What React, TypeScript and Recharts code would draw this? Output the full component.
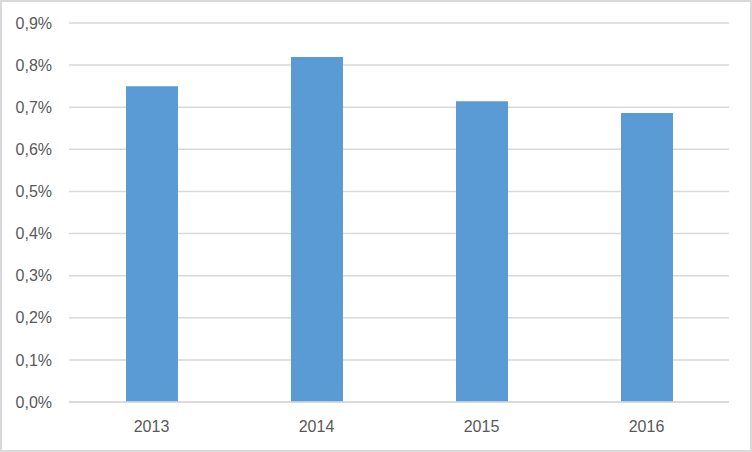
import React from 'react';
import { BarChart, Bar, XAxis, YAxis, CartesianGrid } from 'recharts';

const years = ['2013', '2014', '2015', '2016'];
const shares = [0.0075, 0.00819, 0.00714, 0.00686];
const yTicks = [0, 0.001, 0.002, 0.003, 0.004, 0.005, 0.006, 0.007, 0.008, 0.009];

const data = years.map((year, i) => ({ year, value: shares[i] }));

const fmtPct = (v: number) => (v * 100).toFixed(1).replace('.', ',') + '%';

const tickStyle = { fill: '#595959', fontSize: 16, fontFamily: '"Liberation Sans", Arial, sans-serif' };

const App: React.FC = () => {
  return (
    <div style={{ position: 'fixed', left: 0, top: 0, width: 752, height: 452, background: '#fff' }}>
      <BarChart
        width={752}
        height={452}
        data={data}
        margin={{ top: 23, right: 23, left: 0, bottom: 0 }}
        barCategoryGap={0}
      >
        <CartesianGrid vertical={false} stroke="#d9d9d9" strokeWidth={1.5} />
        <XAxis
          dataKey="year"
          height={50}
          axisLine={{ stroke: '#d9d9d9', strokeWidth: 1.5 }}
          tickLine={false}
          tickMargin={13}
          tick={tickStyle}
        />
        <YAxis
          width={69}
          domain={[0, 0.009]}
          ticks={yTicks}
          tickFormatter={fmtPct}
          axisLine={false}
          tickLine={false}
          tickMargin={11}
          tick={tickStyle}
        />
        <Bar dataKey="value" fill="#5b9bd5" barSize={52} isAnimationActive={false} />
      </BarChart>
      <div
        style={{
          position: 'absolute',
          left: 0,
          top: 0,
          width: 752,
          height: 452,
          boxSizing: 'border-box',
          border: '2px solid #d9d9d9',
          pointerEvents: 'none',
        }}
      />
    </div>
  );
};

export default App;
